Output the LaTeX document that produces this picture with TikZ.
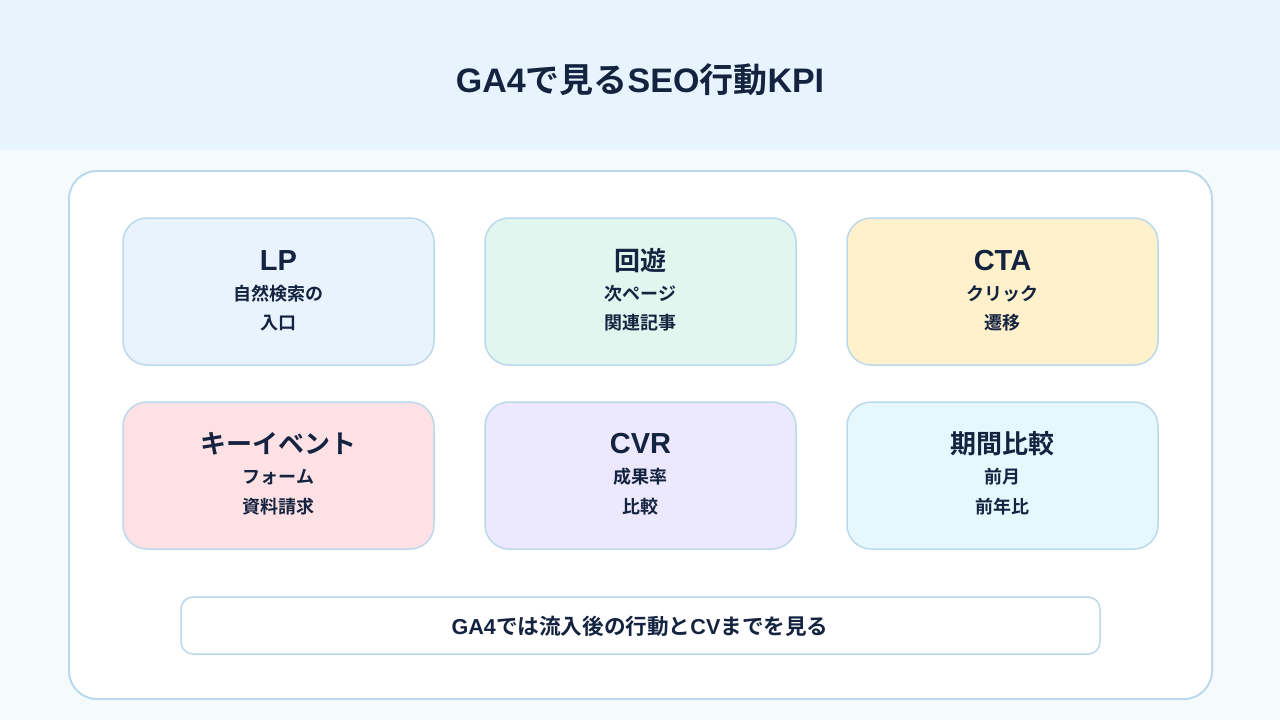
\documentclass[tikz,border=0pt]{standalone}
\usepackage{fontspec}
\setmainfont{Noto Sans CJK JP}[BoldFont={Noto Sans CJK JP Bold}]
\newfontfamily\latn{Liberation Sans}
\newcommand{\LT}[1]{{\latn\bfseries #1}}
\definecolor{ink}{HTML}{14233F}
\definecolor{hdr}{HTML}{E8F4FD}
\definecolor{bg}{HTML}{F5FAFD}
\definecolor{edge}{HTML}{BBD9EB}
\definecolor{cA}{HTML}{E8F3FD}
\definecolor{cB}{HTML}{E1F6EF}
\definecolor{cC}{HTML}{FEF1CC}
\definecolor{cD}{HTML}{FDE1E5}
\definecolor{cE}{HTML}{ECE8FD}
\definecolor{cF}{HTML}{E6F8FE}
\tikzset{
  card/.style={draw=edge, line width=1.5pt, rounded corners=24pt, minimum width=311pt, minimum height=147pt, inner sep=0pt},
  ttl/.style={font=\bfseries\fontsize{26}{30}\selectfont, text=ink, inner sep=0pt, anchor=center},
  ttll/.style={font=\latn\bfseries\fontsize{29}{32}\selectfont, text=ink, inner sep=0pt, anchor=center},
  sub/.style={font=\bfseries\fontsize{18}{20}\selectfont, text=ink, inner sep=0pt, anchor=center},
}
\begin{document}
\begin{tikzpicture}[x=1pt,y=-1pt]
\useasboundingbox (0,0) rectangle (1280,720);
\fill[bg] (0,0) rectangle (1280,720);
\fill[hdr] (0,0) rectangle (1280,150);
\node[font=\bfseries\fontsize{34}{36}\selectfont, text=ink, inner sep=0pt] (title) at (640,80) {\LT{GA4}で見る\LT{SEO}行動\LT{KPI}};
\node[draw=edge, line width=2pt, fill=white, rounded corners=28pt, minimum width=1143pt, minimum height=528pt, inner sep=0pt] (panel) at (640.5,435) {};
% row 1
\node[card, fill=cA] (c1) at (278.5,291.5) {};
\node[card, fill=cB] (c2) at (640.5,291.5) {};
\node[card, fill=cC] (c3) at (1002.5,291.5) {};
\node[card, fill=cD] (c4) at (278.5,475.5) {};
\node[card, fill=cE] (c5) at (640.5,475.5) {};
\node[card, fill=cF] (c6) at (1002.5,475.5) {};
\node[ttll] (t1) at (278.5,261) {LP};
\node[sub] (s1a) at (278.5,294) {自然検索の};
\node[sub] (s1b) at (278.5,323) {入口};
\node[ttl] (t2) at (640.5,261) {回遊};
\node[sub] (s2a) at (640.5,294) {次ページ};
\node[sub] (s2b) at (640.5,323) {関連記事};
\node[ttll] (t3) at (1002.5,261) {CTA};
\node[sub] (s3a) at (1002.5,294) {クリック};
\node[sub] (s3b) at (1002.5,323) {遷移};
\node[ttl] (t4) at (278.5,444) {キーイベント};
\node[sub] (s4a) at (278.5,477) {フォーム};
\node[sub] (s4b) at (278.5,507) {資料請求};
\node[ttll] (t5) at (640.5,444) {CVR};
\node[sub] (s5a) at (640.5,477) {成果率};
\node[sub] (s5b) at (640.5,507) {比較};
\node[ttl] (t6) at (1002.5,444) {期間比較};
\node[sub] (s6a) at (1002.5,477) {前月};
\node[sub] (s6b) at (1002.5,507) {前年比};
\node[draw=edge, line width=1.5pt, fill=white, rounded corners=12pt, minimum width=919pt, minimum height=57pt, inner sep=0pt] (note) at (640.5,625.5) {};
\node[font=\bfseries\fontsize{21.6}{24}\selectfont, text=ink, inner sep=0pt] (notet) at (640,626) {\LT{GA4}では流入後の行動と\LT{CV}までを見る};
\end{tikzpicture}
\end{document}
